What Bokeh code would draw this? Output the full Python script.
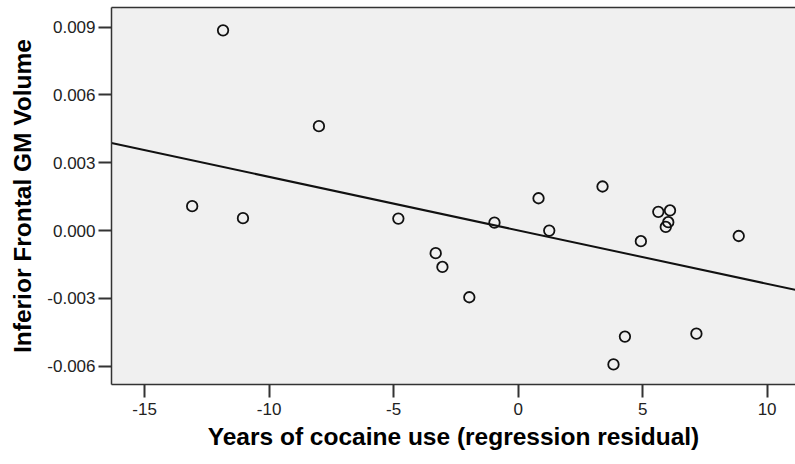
import numpy as np
from bokeh.plotting import figure
from bokeh.models import FixedTicker, PrintfTickFormatter, LinearAxis, Range1d
from bokeh.embed import file_html
from bokeh.resources import INLINE

# Data
years_residual = [-11.85, -8.00, -13.09, -11.05, -4.81, -3.31, -3.04, -1.96, -0.95,
                  0.82, 1.25, 3.39, 4.93, 5.63, 6.10, 6.03, 5.93, 8.86, 4.29, 7.16, 3.83]
gm_volume = [0.00886, 0.00462, 0.00108, 0.00055, 0.00053, -0.00100, -0.00161, -0.00295,
             0.00035, 0.00143, 0.00000, 0.00195, -0.00047, 0.00083, 0.00089, 0.00037,
             0.00016, -0.00024, -0.00469, -0.00456, -0.00592]
x_ticks = [-15, -10, -5, 0, 5, 10]
y_ticks = [-0.006, -0.003, 0.0, 0.003, 0.006, 0.009]

x_lo, x_hi = -16.33, 11.14
y_lo, y_hi = -0.00681, 0.00987

FONT = "Liberation Sans"
AX = "#333333"

p = figure(width=795, height=462, output_backend="svg", toolbar_location=None,
           x_range=Range1d(x_lo, x_hi), y_range=Range1d(y_lo, y_hi),
           min_border_left=111, min_border_right=0, min_border_top=7, min_border_bottom=78)
p.background_fill_color = "#f0f0f0"
p.border_fill_color = "white"
p.outline_line_color = None
p.xgrid.visible = False
p.ygrid.visible = False

# Regression line fitted to the points
slope, intercept = np.polyfit(years_residual, gm_volume, 1)
p.line([x_lo, x_hi], [intercept + slope * x_lo, intercept + slope * x_hi],
       line_color="#111111", line_width=2)

p.scatter(years_residual, gm_volume, marker="circle", size=10.5,
          fill_color=None, line_color="#111111", line_width=1.8)

for ax in (p.xaxis[0], p.yaxis[0]):
    ax.axis_line_color = AX
    ax.axis_line_width = 1.5
    ax.major_tick_line_color = AX
    ax.major_tick_line_width = 2
    ax.major_tick_out = 13
    ax.major_tick_in = 0
    ax.minor_tick_line_color = None
    ax.major_label_text_font = FONT
    ax.major_label_text_font_size = "17px"
    ax.major_label_text_color = "#222222"
    ax.axis_label_text_font = FONT
    ax.axis_label_text_font_size = "24.5px"
    ax.axis_label_text_font_style = "bold"
    ax.axis_label_text_color = "black"

p.xaxis[0].ticker = FixedTicker(ticks=x_ticks)
p.xaxis[0].formatter = PrintfTickFormatter(format="%d")
p.xaxis[0].axis_label = "Years of cocaine use (regression residual)"
p.xaxis[0].major_label_standoff = 5
p.xaxis[0].axis_label_standoff = 5

p.yaxis[0].ticker = FixedTicker(ticks=y_ticks)
p.yaxis[0].formatter = PrintfTickFormatter(format="%.3f")
p.yaxis[0].axis_label = "Inferior Frontal GM Volume"
p.yaxis[0].major_label_standoff = 3
p.yaxis[0].axis_label_standoff = 8

# Top border of the frame
top = LinearAxis(axis_line_color=AX, axis_line_width=1.5, major_tick_line_color=None,
                 minor_tick_line_color=None, major_label_text_font_size="0px",
                 major_label_standoff=0, ticker=FixedTicker(ticks=[]))
p.add_layout(top, "above")

open("out.html", "w").write(file_html(p, INLINE))
